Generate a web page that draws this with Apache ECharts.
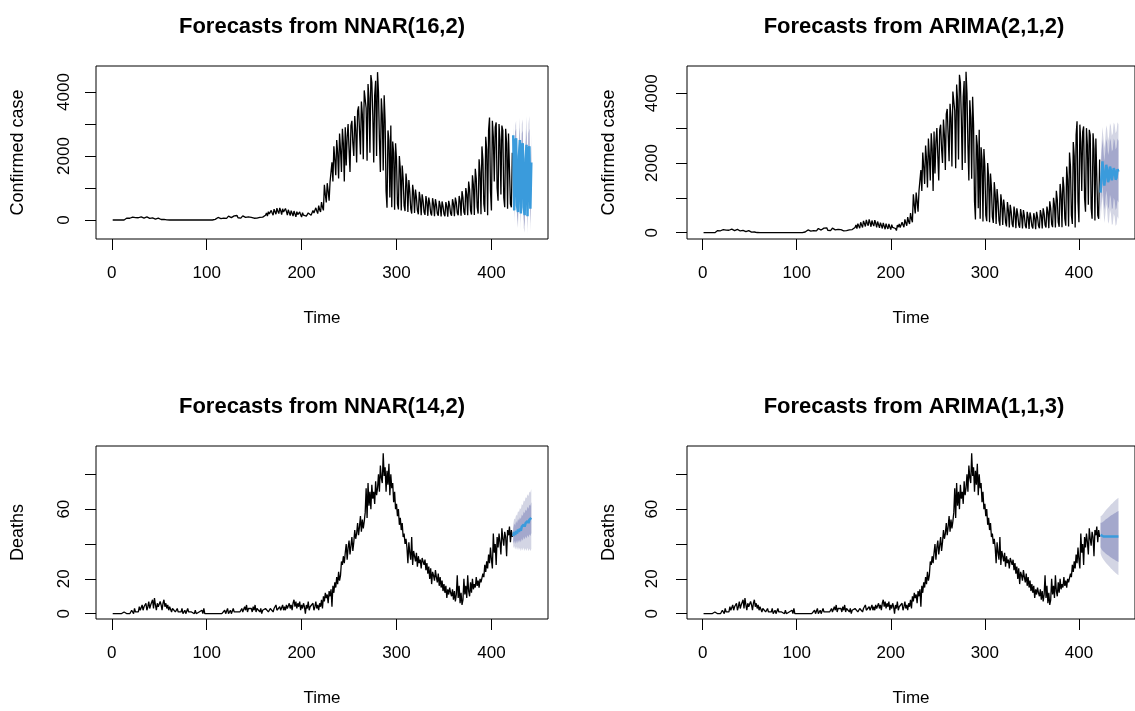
<!DOCTYPE html>
<html><head><meta charset="utf-8">
<script src="https://cdn.jsdelivr.net/npm/echarts@6/dist/echarts.min.js"></script>
<style>html,body{margin:0;padding:0;background:#fff}#c{width:1135px;height:711px}</style>
</head><body><div id="c"></div>
<script>
// ---------- data ----------
const confirmed = [
0,0,0,0,0,0,0,0,0,0,0,0,0,20,
45,60,30,70,55,80,40,
90,65,100,75,60,95,70,
80,55,100,70,85,60,90,
75,95,60,80,50,70,45,
65,40,70,30,55,35,60,
25,40,15,30,10,20,5,
10,5,0,0,0,0,15,
0,0,0,0,0,0,0,0,0,0,0,0,0,0,0,0,0,0,0,0,0,0,0,0,0,0,0,0,0,0,0,0,0,0,0,0,0,0,0,0,0,0,
0,0,0,20,60,40,80,
55,90,45,100,70,60,110,
85,50,95,120,65,100,75,
110,60,130,80,95,140,70,
120,90,60,110,130,75,100,
80,115,60,95,70,50,85,
65,90,55,75,45,60,70,
50,80,60,40,90,110,70,
150,220,120,260,190,130,300,
220,150,340,260,180,370,270,
200,380,290,170,350,250,190,
360,270,150,320,230,140,290,
210,120,280,190,100,260,170,
110,250,160,90,230,150,100,
180,120,60,220,160,250,150,
130,300,220,160,380,280,200,
450,320,250,560,400,300,1100,
800,550,1150,900,600,1200,1500,
1800,1200,2300,1900,1400,2500,2100,
1300,2700,2200,1500,2850,2400,1200,
2900,1700,2600,3000,2200,1500,2950,
3100,2400,2000,3250,2800,1800,3400,
3550,2800,2050,3700,3300,1900,4050,
4100,3500,1850,4250,3800,2100,4530,
4300,3300,1800,3900,4350,2000,4620,
4000,2500,1500,3800,3300,1550,3900,
3100,900,380,2800,2500,700,2950,
400,2450,2100,320,2400,1900,500,
330,2000,1600,300,1700,1300,450,
280,1450,1100,250,1250,900,350,
200,1100,850,220,950,700,300,
180,880,650,150,800,600,250,
160,750,550,130,700,520,220,
140,680,500,120,650,480,200,
130,600,450,110,580,430,190,
120,560,420,100,600,450,200,
130,650,500,120,700,550,220,
150,750,600,130,900,700,250,
160,1000,800,150,1200,950,300,
170,1400,1100,160,1600,1300,400,
200,1900,1500,180,2300,1900,500,
250,2600,2200,150,2800,3200,900,
300,3100,2600,1200,2900,3050,1000,
600,3000,2500,800,2950,2800,700,
400,2850,2400,350,2700,2750,500,
400,2100
];
const deaths = [
0,0,0,0,0,0,0,0,0,0,0,0,
1,0,0,0,1,0,0,0,
2,1,0,3,1,2,0,
1,4,2,3,5,2,4,
3,6,2,4,7,3,5,
4,8,3,9,5,2,6,
4,3,7,5,2,6,8,
4,6,3,5,2,4,3,
1,3,2,4,1,2,3,
1,0,2,1,3,0,1,
2,0,1,3,1,0,2,
1,0,1,0,2,0,1,
0,1,0,0,2,0,3,
0,1,0,0,0,0,0,
0,0,0,0,0,0,0,0,0,0,0,0,0,0,
2,0,1,3,0,1,2,
0,1,3,1,0,2,1,
0,2,1,0,3,1,2,
4,2,5,1,3,4,2,
3,1,4,2,5,1,3,
2,4,1,3,0,2,3,
1,3,2,4,1,2,3,
2,4,1,3,2,5,2,
3,1,4,2,3,5,2,
4,2,5,3,4,6,3,
5,2,6,8,4,7,3,
6,4,7,2,5,3,6,
4,0,5,3,7,2,4,
5,3,6,2,4,7,3,
5,2,6,4,8,3,10,
7,12,9,11,6,13,10,
14,4,16,12,18,15,21,
17,24,19,22,30,28,33,
29,35,40,31,38,42,34,
39,44,36,41,48,43,46,
52,45,50,56,47,54,49,
53,58,72,55,75,62,70,
60,74,66,70,63,76,68,
72,80,70,85,78,75,92,
79,84,70,82,74,86,68,
80,72,75,64,70,60,63,
56,60,51,55,48,52,44,
46,40,43,38,29,41,35,
31,44,28,36,33,30,35,
27,33,29,31,26,32,30,
28,31,25,29,23,27,20,
26,17,24,22,19,25,21,
18,23,16,21,15,19,13,
17,12,16,9,14,11,15,
12,10,14,8,13,7,11,
22,9,16,6,12,5,8,
20,11,16,9,22,13,10,
18,12,20,14,17,15,21,
16,19,15,20,18,17,23,
21,28,24,30,26,34,29,
38,31,26,46,35,40,28,
44,38,46,41,34,49,43,
39,47,44,33,48,45,50,
41,48,44
];
const fcStart = 423;

// NNAR(16,2) confirmed forecast
const nnarCaseFc  = [2650,300,2450,2550,450,250,2000,2500,200,2300,2400,400,150,1900,2350,120,2200,2300,350,1800];
const nnarCaseLo80 = [2400,80,2150,2250,150,-50,1650,2100,-100,1900,2000,50,-200,1450,1850,-250,1700,1750,-100,1250];
const nnarCaseUp80 = [2900,550,2750,2850,800,550,2350,2900,550,2700,2800,800,500,2350,2850,500,2700,2850,800,2350];
const nnarCaseLo95 = [2200,-100,1900,1950,-50,-250,1350,1750,-300,1600,1650,-250,-400,1150,1450,-450,1300,1350,-350,900];
const nnarCaseUp95 = [3050,750,2950,3100,1000,800,2600,3200,800,3000,3150,1100,800,2650,3250,800,3000,3250,1150,2700];

// ARIMA(2,1,2) confirmed forecast
const arimaCaseFc   = [1150,1650,2050,1700,1350,1600,1950,1800,1450,1550,1900,1800,1500,1550,1850,1780,1520,1580,1820,1750];
const arimaCaseLo80 = [600,1050,1410,1030,650,880,1210,1040,670,750,1090,980,670,710,1000,920,650,705,940,865];
const arimaCaseUp80 = [1700,2250,2690,2370,2050,2320,2690,2560,2230,2350,2710,2620,2330,2390,2700,2640,2390,2455,2700,2635];
const arimaCaseLo95 = [310,730,1070,670,280,500,820,640,260,330,660,540,220,250,540,460,190,240,470,390];
const arimaCaseUp95 = [1990,2570,3030,2730,2420,2700,3080,2960,2640,2770,3140,3060,2780,2850,3160,3100,2850,2920,3170,3110];

// NNAR(14,2) deaths forecast
const nnarDeathFc   = [44.5,46.8,45.2,47.5,46.0,48.3,47.0,48.8,47.6,50.0,48.9,51.2,50.0,52.0,51.0,53.2,52.0,54.0,53.2,55.0];
const nnarDeathLo80 = [40.0,41.8,40.0,42.0,40.3,42.3,40.8,42.4,41.0,43.2,41.9,44.0,42.6,44.4,43.2,45.2,43.8,45.6,44.6,46.2];
const nnarDeathUp80 = [49.0,51.8,50.6,53.2,51.9,54.5,53.4,55.4,54.4,57.0,56.1,58.6,57.6,59.8,58.9,61.4,60.3,62.5,61.9,63.9];
const nnarDeathLo95 = [37.5,38.8,36.8,38.5,36.5,38.3,36.5,37.8,35.8,37.8,36.2,38.0,36.0,37.6,36.0,37.8,35.8,37.4,36.0,37.2];
const nnarDeathUp95 = [51.5,54.6,54.0,57.0,56.0,59.0,58.2,60.6,60.0,63.0,62.3,65.0,64.4,66.8,66.2,68.6,67.6,70.0,69.6,71.6];

// ARIMA(1,1,3) deaths forecast
const arimaDeathFc   = [45.2,44.6,44.4,44.3,44.3,44.3,44.3,44.3,44.3,44.3,44.3,44.3,44.3,44.3,44.3,44.3,44.3,44.3,44.3,44.3];
const arimaDeathLo80 = [38.2,37.0,36.3,35.7,35.2,34.7,34.3,33.9,33.5,33.1,32.7,32.3,32.0,31.6,31.3,31.0,30.6,30.3,30.0,29.7];
const arimaDeathUp80 = [52.2,52.2,52.5,52.9,53.4,53.9,54.3,54.7,55.1,55.5,55.9,56.3,56.6,57.0,57.3,57.6,58.0,58.3,58.6,58.9];
const arimaDeathLo95 = [34.5,33.0,32.0,31.1,30.4,29.7,29.0,28.4,27.8,27.2,26.6,26.0,25.5,25.0,24.4,23.9,23.4,22.9,22.5,22.0];
const arimaDeathUp95 = [55.9,56.2,56.8,57.5,58.2,58.9,59.6,60.2,60.8,61.4,62.0,62.6,63.1,63.6,64.2,64.7,65.2,65.7,66.1,66.6];

// tick values
const xTicks = [0,100,200,300,400];
const caseTicks = [0,1000,2000,3000,4000];
const caseLabels = [0,2000,4000];
const deathTicks = [0,20,40,60,80];
const deathLabels = [0,20,60];

const titles = ['Forecasts from NNAR(16,2)','Forecasts from ARIMA(2,1,2)','Forecasts from NNAR(14,2)','Forecasts from ARIMA(1,1,3)'];

// ---------- chart ----------
const FONT = '"Liberation Sans", Arial, Helvetica, sans-serif';
const LINE_BLUE = '#3A9BDC';
const C80 = '#A4A8CC';
const C95 = '#D3D5E4';

const grids = [
  {left:96, top:66, width:452, height:173},
  {left:687, top:66, width:454, height:173},
  {left:96, top:446, width:452, height:173},
  {left:687, top:446, width:454, height:173}
];
const yRanges = [[-594,4812],[-181,4783],[-3.04,96.24],[-3.04,96.24]];
const yLabMargin = [23,26,23,26];

function xAxis(i){
  return {
    gridIndex:i, type:'value', min:-16.6, max:459.6, position:'bottom',
    splitLine:{show:false}, axisLine:{show:false, onZero:false},
    axisTick:{show:true, inside:false, length:11, lineStyle:{color:'#000',width:1}, customValues:xTicks},
    axisLabel:{customValues:xTicks, margin:26, color:'#000', fontSize:17, fontFamily:FONT, formatter:v=>String(v)},
    name:'Time', nameLocation:'middle', nameGap:70.5,
    nameTextStyle:{color:'#000', fontSize:17, fontFamily:FONT}
  };
}
function yAxis(i){
  const isCase = i<2;
  return {
    gridIndex:i, type:'value', min:yRanges[i][0], max:yRanges[i][1], position:'left',
    splitLine:{show:false}, axisLine:{show:false, onZero:false},
    axisTick:{show:true, inside:false, length:11, lineStyle:{color:'#000',width:1}, customValues:isCase?caseTicks:deathTicks},
    axisLabel:{customValues:isCase?caseLabels:deathLabels, rotate:90, margin:yLabMargin[i], color:'#000', fontSize:17, fontFamily:FONT, formatter:v=>String(v)},
    name:isCase?'Confirmed case':'Deaths', nameLocation:'middle', nameGap:68.5,
    nameTextStyle:{color:'#000', fontSize:18, fontFamily:FONT}
  };
}
function hist(i, arr){
  return {type:'line', xAxisIndex:i, yAxisIndex:i, data:arr.map((v,k)=>[k+1,v]),
    showSymbol:false, symbol:'none', lineStyle:{color:'#000', width:1.3}, silent:true, z:3};
}
function band(i, lo, up, color, z){
  return {type:'custom', xAxisIndex:i, yAxisIndex:i, clip:true, silent:true, z:z,
    data:[[fcStart, lo[0]]],
    renderItem:(params, api)=>{
      const pts=[];
      for(let k=0;k<up.length;k++) pts.push(api.coord([fcStart+k, up[k]]));
      for(let k=lo.length-1;k>=0;k--) pts.push(api.coord([fcStart+k, lo[k]]));
      return {type:'polygon', shape:{points:pts}, style:{fill:color, stroke:null}};
    }};
}
function fcLine(i, arr){
  return {type:'line', xAxisIndex:i, yAxisIndex:i, data:arr.map((v,k)=>[fcStart+k,v]),
    showSymbol:false, symbol:'none', lineStyle:{color:LINE_BLUE, width:2.5}, silent:true, z:4};
}

const series = [
  hist(0, confirmed), band(0, nnarCaseLo95, nnarCaseUp95, C95, 1), band(0, nnarCaseLo80, nnarCaseUp80, C80, 2), fcLine(0, nnarCaseFc),
  hist(1, confirmed), band(1, arimaCaseLo95, arimaCaseUp95, C95, 1), band(1, arimaCaseLo80, arimaCaseUp80, C80, 2), fcLine(1, arimaCaseFc),
  hist(2, deaths), band(2, nnarDeathLo95, nnarDeathUp95, C95, 1), band(2, nnarDeathLo80, nnarDeathUp80, C80, 2), fcLine(2, nnarDeathFc),
  hist(3, deaths), band(3, arimaDeathLo95, arimaDeathUp95, C95, 1), band(3, arimaDeathLo80, arimaDeathUp80, C80, 2), fcLine(3, arimaDeathFc)
];

const titlePos = [[322,27],[914,27],[322,407],[914,407]];
const graphic = titles.map((t,i)=>({type:'text', x:titlePos[i][0], y:titlePos[i][1],
  style:{text:t, textAlign:'center', textVerticalAlign:'middle', fill:'#000', font:'bold 22px '+FONT}}));

const chart = echarts.init(document.getElementById('c'), null, {renderer:'canvas'});
chart.setOption({
  animation:false,
  backgroundColor:'#fff',
  grid: grids.map(g=>Object.assign({show:true, borderColor:'#000', borderWidth:1, backgroundColor:'transparent', containLabel:false}, g)),
  xAxis:[0,1,2,3].map(xAxis),
  yAxis:[0,1,2,3].map(yAxis),
  series:series,
  graphic:graphic
});
</script></body></html>
